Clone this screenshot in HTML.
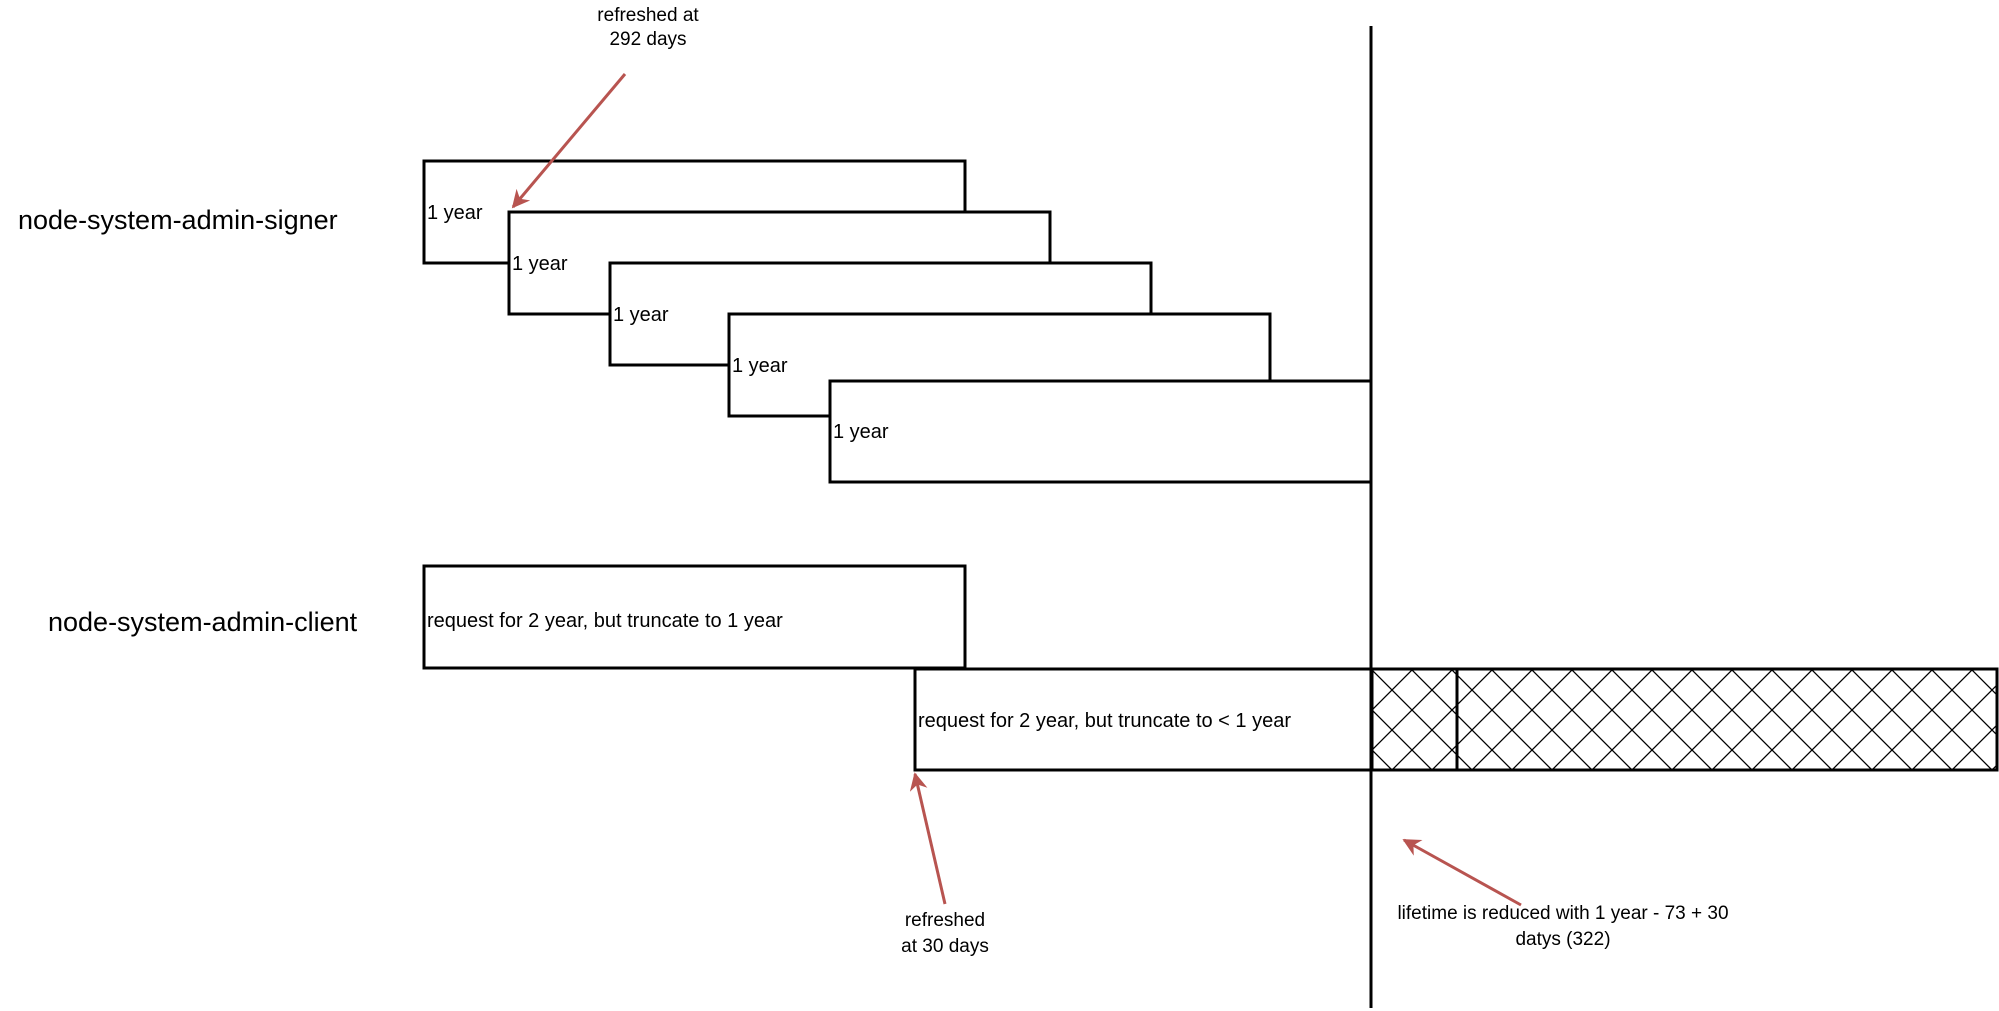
<!DOCTYPE html>
<html><head><meta charset="utf-8"><style>
html,body{margin:0;padding:0;background:#fff;width:1999px;height:1011px;overflow:hidden}
svg text{font-family:"Liberation Sans",Helvetica,Arial,sans-serif;fill:#000}
</style></head><body>
<svg width="1999" height="1011" viewBox="0 0 1999 1011" xmlns="http://www.w3.org/2000/svg">
<defs>
<pattern id="h" patternUnits="userSpaceOnUse" width="40" height="40" x="1372" y="670">
<path d="M0 0L40 40M40 0L0 40M-20 20L0 40M20 -20L40 0M-20 20L0 0M20 60L40 40" stroke="#000" stroke-width="1.3" fill="none"/>
</pattern>
<marker id="a" viewBox="0 0 10 10" refX="9" refY="5" markerWidth="6" markerHeight="6" orient="auto" markerUnits="strokeWidth">
<path d="M0 0L10 5L0 10L3 5z" fill="#b85450"/>
</marker>
</defs>
<g fill="#fff" stroke="#000" stroke-width="3">
<rect x="424" y="161" width="541" height="102"/>
<rect x="509" y="212" width="541" height="102"/>
<rect x="610" y="263" width="541" height="102"/>
<rect x="729" y="314" width="541" height="102"/>
<rect x="830" y="381" width="541" height="101"/>
<rect x="424" y="566" width="541" height="102"/>
<rect x="915" y="669" width="456" height="101"/>
<rect x="1372" y="669" width="625" height="101" fill="url(#h)"/>
<line x1="1457" y1="669" x2="1457" y2="770"/>
</g>
<line x1="1371" y1="26" x2="1371" y2="1008" stroke="#000" stroke-width="3"/>
<g font-size="20">
<text x="427" y="219">1 year</text>
<text x="512" y="270">1 year</text>
<text x="613" y="321">1 year</text>
<text x="732" y="372">1 year</text>
<text x="833" y="438">1 year</text>
<text x="427" y="627">request for 2 year, but truncate to 1 year</text>
<text x="918" y="727">request for 2 year, but truncate to &lt; 1 year</text>
</g>
<g font-size="27">
<text x="18" y="229">node-system-admin-signer</text>
<text x="48" y="631">node-system-admin-client</text>
</g>
<g font-size="19" text-anchor="middle">
<text x="648" y="21">refreshed at</text>
<text x="648" y="45">292 days</text>
<text x="945" y="926">refreshed</text>
<text x="945" y="952">at 30 days</text>
<text x="1563" y="919">lifetime is reduced with 1 year - 73 + 30</text>
<text x="1563" y="945">datys (322)</text>
</g>
<g stroke="#b85450" stroke-width="3" fill="none" marker-end="url(#a)">
<line x1="625" y1="74" x2="513" y2="207"/>
<line x1="945" y1="904" x2="915" y2="774"/>
<line x1="1521" y1="905" x2="1404" y2="840"/>
</g>
</svg>
</body></html>
